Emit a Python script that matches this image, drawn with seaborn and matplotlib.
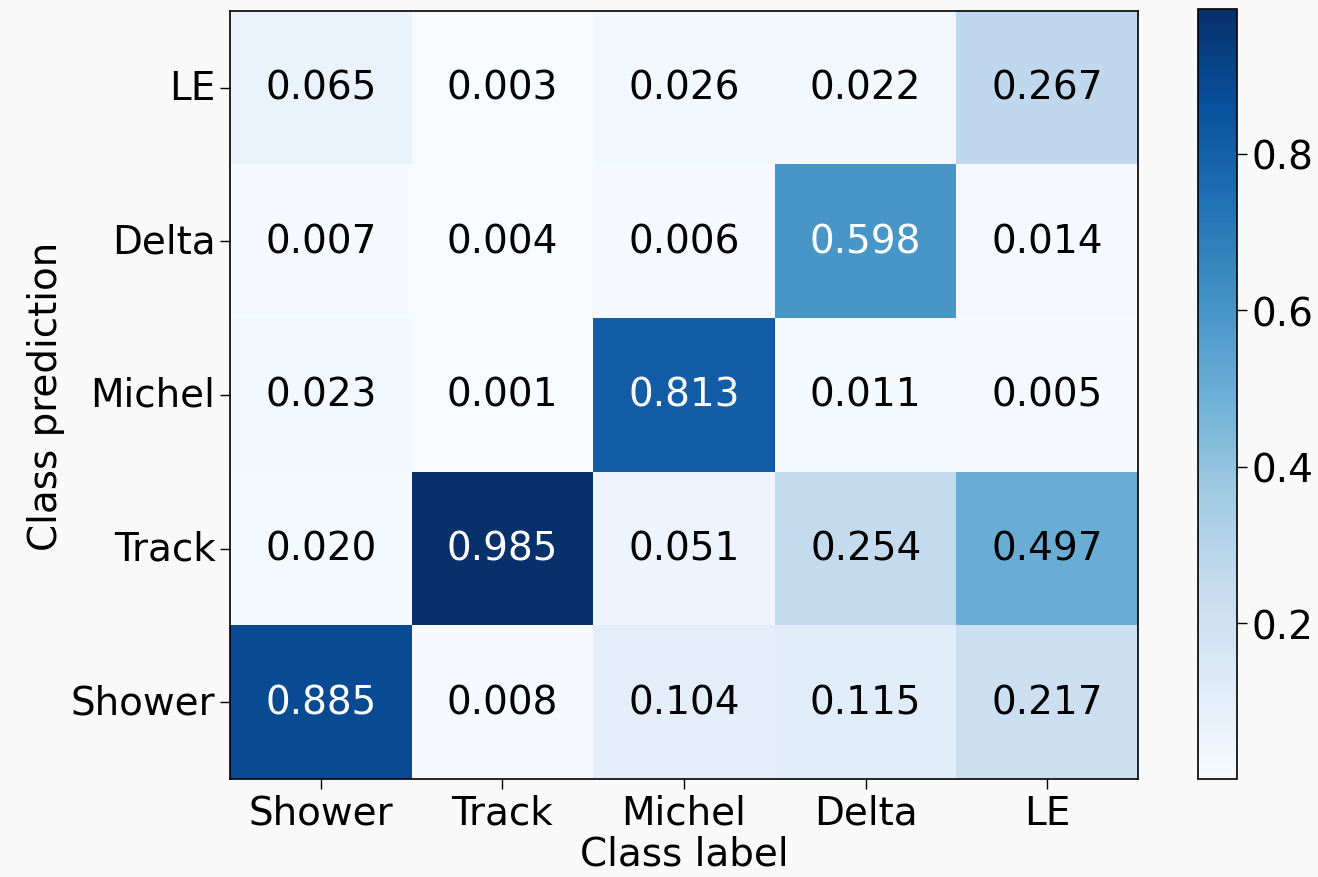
import numpy as np
import pandas as pd
import seaborn as sns
import matplotlib.pyplot as plt

classes = ["Shower", "Track", "Michel", "Delta", "LE"]

# rows = class prediction, columns = class label
shower_pred = [0.885, 0.008, 0.104, 0.115, 0.217]
track_pred = [0.020, 0.985, 0.051, 0.254, 0.497]
michel_pred = [0.023, 0.001, 0.813, 0.011, 0.005]
delta_pred = [0.007, 0.004, 0.006, 0.598, 0.014]
le_pred = [0.065, 0.003, 0.026, 0.022, 0.267]

cm = pd.DataFrame([shower_pred, track_pred, michel_pred, delta_pred, le_pred],
                  index=classes, columns=classes)

fig = plt.figure(figsize=(13.18, 8.78), dpi=100, facecolor="#f9f9f9")
ax = fig.add_axes([0.1745, 0.1116, 0.689, 0.875])
cax = fig.add_axes([0.909, 0.1116, 0.0295, 0.877])

sns.heatmap(cm, cmap="Blues", annot=True, fmt=".3f", annot_kws={"fontsize": 28},
            ax=ax, cbar_ax=cax, linewidths=0)
ax.invert_yaxis()

# white text on the dark cells
for t in ax.texts:
    t.set_color("white" if float(t.get_text()) > 0.5 else "black")

for s in ax.spines.values():
    s.set_visible(True)
    s.set_linewidth(1.2)
ax.tick_params(axis="both", labelsize=28, length=7, width=1)
ax.set_yticklabels(classes, rotation=0)
ax.set_xticklabels(classes, rotation=0)
ax.set_xlabel("Class label", fontsize=28, labelpad=2)
ax.set_ylabel("Class prediction", fontsize=28)

cbar = ax.collections[0].colorbar
cbar.outline.set_visible(True)
cbar.outline.set_linewidth(1.2)
cbar.set_ticks([0.2, 0.4, 0.6, 0.8])
cbar.ax.tick_params(labelsize=28, length=7, width=1)

fig.savefig("out.png", dpi=100, facecolor=fig.get_facecolor())
